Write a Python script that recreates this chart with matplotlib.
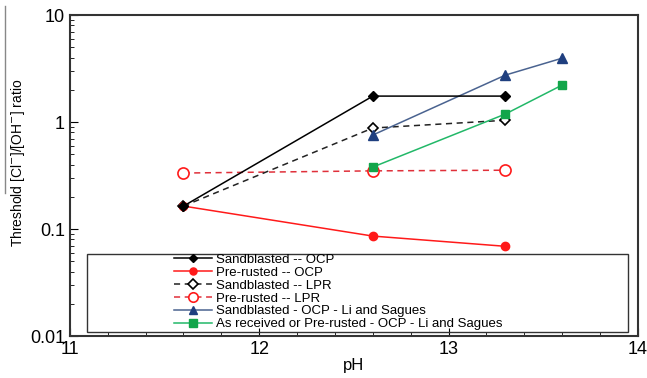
import numpy as np
import matplotlib.pyplot as plt
from matplotlib.patches import Rectangle
from matplotlib.lines import Line2D
from matplotlib.ticker import MultipleLocator, LogLocator, NullFormatter

plt.rcParams['font.family'] = ['Liberation Sans', 'DejaVu Sans']

ph_lab = [11.6, 12.6, 13.3]
sb_ocp = [0.164, 1.75, 1.75]
pr_ocp = [0.164, 0.086, 0.069]
sb_lpr = [0.164, 0.88, 1.04]
pr_lpr = [0.334, 0.35, 0.355]

ph_li = [12.6, 13.3, 13.6]
li_sb = [0.757, 2.75, 3.96]
li_ar = [0.38, 1.19, 2.22]

fig = plt.figure(figsize=(6.47, 3.78), dpi=100)
ax = fig.add_axes([0.108, 0.111, 0.878, 0.849])

ax.plot(ph_lab, sb_lpr, ls=(0, (4, 3)), color="#222222", lw=1.1, marker="D",
        ms=5.5, mfc="white", mec="black", mew=1.2, label="Sandblasted -- LPR", zorder=3)
ax.plot(ph_lab, sb_ocp, color="black", lw=1.1, marker="D", ms=5,
        label="Sandblasted -- OCP", zorder=4)
ax.plot(ph_lab, pr_ocp, color="#ff1a1a", lw=1.1, marker="o", ms=6,
        label="Pre-rusted -- OCP", zorder=3)
ax.plot(ph_lab, pr_lpr, ls=(0, (4, 3)), color="#e0303a", lw=1.1, marker="o",
        ms=8, mfc="white", mec="#ff1a1a", mew=1.2, label="Pre-rusted -- LPR", zorder=2)
ax.plot(ph_li, li_sb, color="#4a6390", lw=1.1, marker="^", ms=7, mfc="#1f3f7f",
        mec="#1f3f7f", label="Sandblasted - OCP - Li and Sagues", zorder=3)
ax.plot(ph_li, li_ar, color="#22b868", lw=1.1, marker="s", ms=6, mfc="#12a54a",
        mec="#12a54a", label="As received or Pre-rusted - OCP - Li and Sagues", zorder=3)

ax.set_yscale("log")
ax.set_xlim(11, 14)
ax.set_ylim(0.01, 10)
ax.set_yticks([0.01, 0.1, 1, 10])
ax.set_yticklabels(["0.01", "0.1", "1", "10"])
ax.yaxis.set_minor_locator(LogLocator(base=10, subs=np.arange(2, 10)))
ax.yaxis.set_minor_formatter(NullFormatter())
ax.xaxis.set_major_locator(MultipleLocator(1))
ax.xaxis.set_minor_locator(MultipleLocator(0.2))
ax.tick_params(which="both", direction="in", top=False, right=False, labelsize=13)
ax.tick_params(which="major", length=6)
ax.tick_params(which="minor", length=3)
for s in ax.spines.values():
    s.set_linewidth(1.5)
    s.set_color("#333333")

ax.set_xlabel("pH", fontsize=12, labelpad=0)
ax.set_ylabel("Threshold [Cl$^{-}$]/[OH$^{-}$] ratio", fontsize=10)
ax.yaxis.set_label_coords(-0.076, 0.54)

ax.add_patch(Rectangle((0.03, 0.012), 0.952, 0.243, transform=ax.transAxes,
                       fill=False, ec="#333333", lw=1, zorder=5))
handles, labels = ax.get_legend_handles_labels()
order = [1, 2, 0, 3, 4, 5]
leg = ax.legend([handles[i] for i in order], [labels[i] for i in order],
                loc="upper left", bbox_to_anchor=(0.178, 0.265), frameon=False,
                fontsize=9.5, labelspacing=0.05, handlelength=2.9, handletextpad=0.3,
                borderaxespad=0, borderpad=0.2, markerscale=0.85)

fig.add_artist(Line2D([0.008, 0.008], [0.49, 0.985], color="#888888", lw=1))

fig.savefig("out.png", dpi=100)
